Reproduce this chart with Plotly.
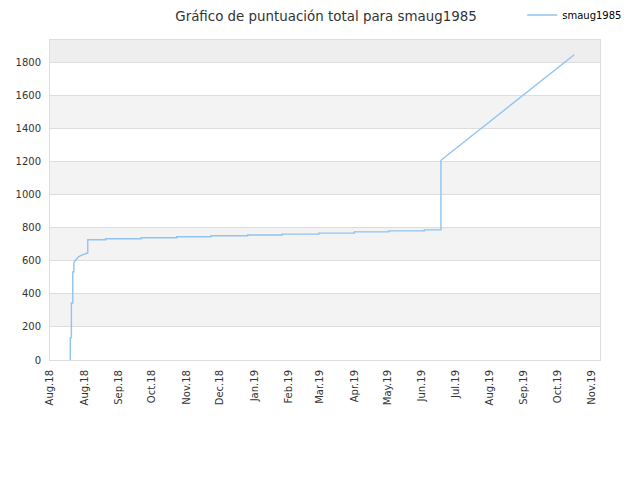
import plotly.graph_objects as go

# Score history (step-like series; repeated dates = vertical jumps)
dates = [
    "2018-07-19 06:00", "2018-07-19 06:00", "2018-07-20 06:00", "2018-07-20 06:00",
    "2018-07-21 12:00", "2018-07-21 12:00", "2018-07-22 12:00", "2018-07-22 12:00",
    "2018-07-23 12:00", "2018-07-24 12:00", "2018-07-25 12:00", "2018-07-27 00:00",
    "2018-07-29 00:00", "2018-08-01 00:00", "2018-08-04 00:00", "2018-08-04 00:00",
    "2018-08-20", "2018-08-20", "2018-09-21", "2018-09-21", "2018-10-23", "2018-10-23",
    "2018-11-23", "2018-11-23", "2018-12-26", "2018-12-26", "2019-01-26", "2019-01-26",
    "2019-02-28", "2019-02-28", "2019-04-01", "2019-04-01", "2019-05-02", "2019-05-02",
    "2019-06-03", "2019-06-03", "2019-06-18", "2019-06-18", "2019-10-16",
]
scores = [
    0, 135, 135, 345,
    345, 533, 533, 587,
    600, 609, 617, 625,
    633, 641, 647, 727,
    727, 733, 733, 739, 739, 745,
    745, 751, 751, 756, 756, 761,
    761, 767, 767, 775, 775, 781,
    781, 787, 787, 1208, 1846,
]

tick_dates = [
    "2018-07-01", "2018-08-01", "2018-09-01", "2018-10-01", "2018-11-01", "2018-12-01",
    "2019-01-01", "2019-02-01", "2019-03-01", "2019-04-01", "2019-05-01", "2019-06-01",
    "2019-07-01", "2019-08-01", "2019-09-01", "2019-10-01", "2019-11-01",
]
tick_labels = [
    "Aug.18", "Aug.18", "Sep.18", "Oct.18", "Nov.18", "Dec.18", "Jan.19", "Feb.19",
    "Mar.19", "Apr.19", "May.19", "Jun.19", "Jul.19", "Aug.19", "Sep.19", "Oct.19", "Nov.19",
]
y_ticks = [0, 200, 400, 600, 800, 1000, 1200, 1400, 1600, 1800]
y_max = 1935

fig = go.Figure()
fig.add_trace(go.Scatter(
    x=dates, y=scores, mode="lines", name="smaug1985",
    line=dict(color="#90c3f2", width=1.4),
))

# alternating bands
shapes = []
bounds = y_ticks + [y_max]
for i in range(len(bounds) - 1):
    if i % 2 == 1:
        color = "#eeeeee" if bounds[i + 1] == y_max else "#f3f3f3"
        shapes.append(dict(type="rect", xref="paper", yref="y", x0=0, x1=1,
                           y0=bounds[i], y1=bounds[i + 1], fillcolor=color,
                           line=dict(width=0), layer="below"))

fig.update_layout(
    width=640, height=480,
    margin=dict(l=42, r=48, t=32, b=128, autoexpand=False),
    paper_bgcolor="white", plot_bgcolor="white",
    font=dict(family="DejaVu Sans", size=10, color="#333333"),
    title=dict(text="Gráfico de puntuación total para smaug1985", x=0.497, xanchor="center",
               y=1, yanchor="top", pad=dict(t=4, b=0, l=0, r=0),
               font=dict(size=13.4, color="#333333")),
    showlegend=True,
    legend=dict(x=1.0495, y=(360 - 15) / 320, xanchor="right", yanchor="middle",
                orientation="h", font=dict(size=10, color="#000000"), itemwidth=30,
                bgcolor="rgba(0,0,0,0)"),
    shapes=shapes,
    xaxis=dict(
        type="date", range=["2018-07-01", "2019-11-08 05:00"],
        tickmode="array", tickvals=tick_dates, ticktext=tick_labels,
        tickangle=-90, showgrid=False, zeroline=False,
        showline=True, linecolor="#dddddd", linewidth=1, mirror=True,
        ticks="outside", ticklen=5, tickcolor="rgba(0,0,0,0)",
        tickfont=dict(size=10, color="#333333"), automargin=False,
    ),
    yaxis=dict(
        range=[0, y_max], tickmode="array", tickvals=y_ticks,
        showgrid=True, gridcolor="#dddddd", gridwidth=1, zeroline=False,
        showline=True, linecolor="#dddddd", linewidth=1, mirror=True,
        ticks="outside", ticklen=6, tickcolor="rgba(0,0,0,0)",
        tickfont=dict(size=10, color="#333333"), automargin=False,
    ),
)

fig.write_html("out.html")
